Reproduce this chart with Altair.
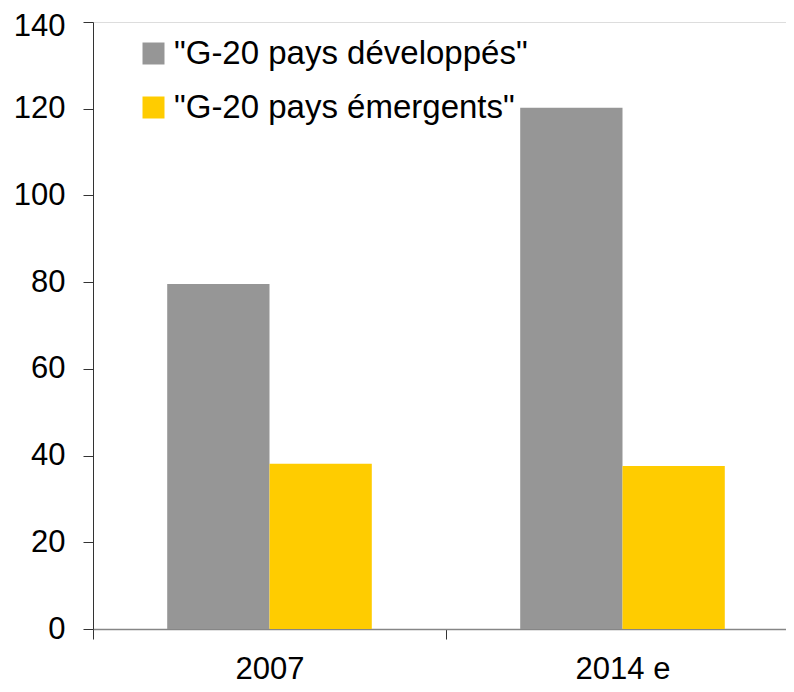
import altair as alt
import pandas as pd

categories = ["2007", "2014 e"]
series = ['"G-20 pays développés"', '"G-20 pays émergents"']
developed = [79.6, 120.2]
emerging = [38.1, 37.6]
colors = ["#969696", "#FFCC00"]
y_ticks = [0, 20, 40, 60, 80, 100, 120, 140]

rows = []
for i, c in enumerate(categories):
    rows.append({"cat": c, "series": series[0], "order": 0, "value": developed[i]})
    rows.append({"cat": c, "series": series[1], "order": 1, "value": emerging[i]})
df = pd.DataFrame(rows)

FONT = "Liberation Sans, Arial, sans-serif"

chart = (
    alt.Chart(df)
    .mark_bar()
    .encode(
        x=alt.X(
            "cat:N",
            sort=categories,
            title=None,
            scale=alt.Scale(paddingInner=0, paddingOuter=0, range=[0, 706]),
            axis=alt.Axis(
                labelAngle=0,
                labelFontSize=31,
                labelFont=FONT,
                labelColor="#000000",
                labelPadding=15,
                tickSize=10,
                tickColor="#333333",
                tickBand="extent",
                domainColor="#868686",
                domainWidth=1.5,
            ),
        ),
        xOffset=alt.XOffset(
            "series:N",
            sort=series,
            scale=alt.Scale(paddingInner=0, paddingOuter=0.7255),
        ),
        y=alt.Y(
            "value:Q",
            title=None,
            scale=alt.Scale(domain=[0, 140], nice=False),
            axis=alt.Axis(
                values=y_ticks,
                labelFontSize=31,
                labelFont=FONT,
                labelColor="#000000",
                labelPadding=18,
                labelOffset={"condition": {"test": "datum.value == 140", "value": 4}, "value": 0},
                tickSize=10,
                tickColor="#333333",
                domainColor="#333333",
                grid=False,
            ),
        ),
        color=alt.Color(
            "series:N",
            sort=series,
            scale=alt.Scale(domain=series, range=colors),
            legend=alt.Legend(
                title=None,
                orient="none",
                legendX=44,
                legendY=15,
                symbolType="square",
                symbolSize=484,
                symbolStrokeWidth=0,
                labelFontSize=33,
                labelFont=FONT,
                labelColor="#000000",
                labelOffset=4,
                rowPadding=20,
                padding=0,
                labelLimit=500,
            ),
        ),
    )
    .properties(
        width=693,
        height=607,
        autosize=alt.AutoSizeParams(type="none"),
        padding={"left": 85, "top": 14, "right": 0, "bottom": 55},
    )
    .configure_view(stroke=None)
    .configure(background="#ffffff")
)

chart.save("out.html", embed_options={"renderer": "svg", "actions": False})
